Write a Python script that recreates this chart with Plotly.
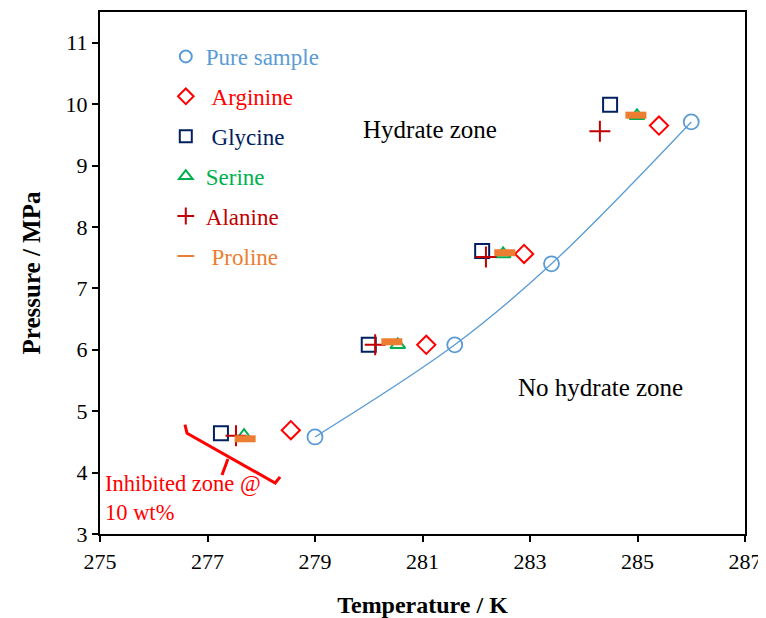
import plotly.graph_objects as go

# Data (Temperature in K, Pressure in MPa)
pure_T = [279.0, 281.6, 283.4, 286.0]
pure_P = [4.58, 6.08, 7.40, 9.71]

arg_T = [278.55, 281.07, 282.89, 285.40]
arg_P = [4.69, 6.08, 7.56, 9.65]

gly_T = [277.25, 280.0, 282.11, 284.49]
gly_P = [4.64, 6.08, 7.61, 9.99]

ser_T = [277.68, 280.54, 282.50, 284.99]
ser_P = [4.60, 6.08, 7.56, 9.81]

ala_T = [277.53, 280.12, 282.18, 284.30]
ala_P = [4.60, 6.08, 7.51, 9.56]

pro_T = [277.70, 280.43, 282.53, 284.97]
pro_P = [4.55, 6.13, 7.58, 9.82]

x_ticks = [275, 277, 279, 281, 283, 285, 287]
y_ticks = [3, 4, 5, 6, 7, 8, 9, 10, 11]

FONT = "Times New Roman, Liberation Serif, serif"
C_PURE = "#5B9BD5"
C_ARG = "#FF0000"
C_GLY = "#002060"
C_SER = "#00B050"
C_ALA = "#C00000"
C_PRO = "#ED7D31"

def lab(txt, c):
    return f'<span style="color:{c}">{txt}</span>'

fig = go.Figure()

# trend line through pure sample
fig.add_trace(go.Scatter(x=pure_T, y=pure_P, mode="lines", line=dict(color=C_PURE, width=1.3, shape="spline"),
                         showlegend=False, hoverinfo="skip"))

fig.add_trace(go.Scatter(x=pure_T, y=pure_P, mode="markers", name=lab("Pure sample", C_PURE), legendgroup="a",
                         marker=dict(symbol="circle-open", size=15, color=C_PURE, line=dict(width=1.8))))
fig.add_trace(go.Scatter(x=arg_T, y=arg_P, mode="markers", name=lab("\u00a0Arginine", C_ARG), legendgroup="b",
                         marker=dict(symbol="diamond-open", size=14, color=C_ARG, line=dict(width=2))))
fig.add_trace(go.Scatter(x=gly_T, y=gly_P, mode="markers", name=lab("\u00a0Glycine", C_GLY), legendgroup="c",
                         marker=dict(symbol="square-open", size=14, color=C_GLY, line=dict(width=2))))
fig.add_trace(go.Scatter(x=ser_T, y=ser_P, mode="markers", name=lab("Serine", C_SER), legendgroup="d",
                         marker=dict(symbol="triangle-up-open", size=13, color=C_SER, line=dict(width=2))))
fig.add_trace(go.Scatter(x=ala_T, y=ala_P, mode="markers", name=lab("Alanine", C_ALA), legendgroup="e",
                         marker=dict(symbol="cross-thin-open", size=15, color=C_ALA, line=dict(width=2, color=C_ALA))))
fig.add_trace(go.Scatter(x=pro_T, y=pro_P, mode="markers", name=lab("\u00a0Proline", C_PRO), legendgroup="f",
                         marker=dict(symbol="line-ew-open", size=15, color=C_PRO, line=dict(width=7, color=C_PRO))))

# bracket for inhibited zone
fig.add_shape(type="path", xref="x", yref="y",
              path="M 276.58 4.78 L 276.62 4.64 L 278.26 3.83 L 278.35 3.93",
              line=dict(color="#FF0000", width=3))
fig.add_shape(type="line", xref="x", yref="y", x0=277.38, y0=4.22, x1=277.27, y1=3.96,
              line=dict(color="#FF0000", width=3))

fig.add_annotation(x=281.14, y=9.58, text="Hydrate zone", showarrow=False,
                   font=dict(family=FONT, size=25, color="black"))
fig.add_annotation(x=284.32, y=5.38, text="No hydrate zone", showarrow=False,
                   font=dict(family=FONT, size=25, color="black"))
fig.add_annotation(x=275.06, y=3.58, text="Inhibited zone @<br>10 wt%", showarrow=False,
                   xanchor="left", yanchor="middle", align="left",
                   font=dict(family=FONT, size=22.5, color="#FF0000"))

axis_common = dict(showline=True, linecolor="black", linewidth=2.2, mirror=True, showgrid=False,
                   zeroline=False, ticks="outside", ticklen=6, tickwidth=2, tickcolor="black",
                   automargin=False, ticklabeloverflow="allow",
                   tickfont=dict(family=FONT, size=22, color="black"))

fig.update_xaxes(range=[275, 287], tickvals=x_ticks, ticktext=[str(v) for v in x_ticks],
                 title=dict(text="<b>Temperature / K</b>", font=dict(family=FONT, size=24, color="black"), standoff=25),
                 **axis_common)
fig.update_yaxes(range=[3, 11.5], tickvals=y_ticks, ticktext=[str(v) for v in y_ticks],
                 title=dict(text="<b>Pressure / MPa</b>", font=dict(family=FONT, size=25, color="black"), standoff=18),
                 **axis_common)

fig.update_layout(
    width=758, height=610,
    margin=dict(l=92, r=21, t=4, b=84),
    plot_bgcolor="white", paper_bgcolor="white",
    font=dict(family=FONT, size=22),
    legend=dict(x=0.102, y=0.956, xanchor="left", yanchor="top", bgcolor="rgba(0,0,0,0)",
                font=dict(family=FONT, size=23), tracegroupgap=7, itemsizing="constant"),
)

fig.write_html("out.html")
